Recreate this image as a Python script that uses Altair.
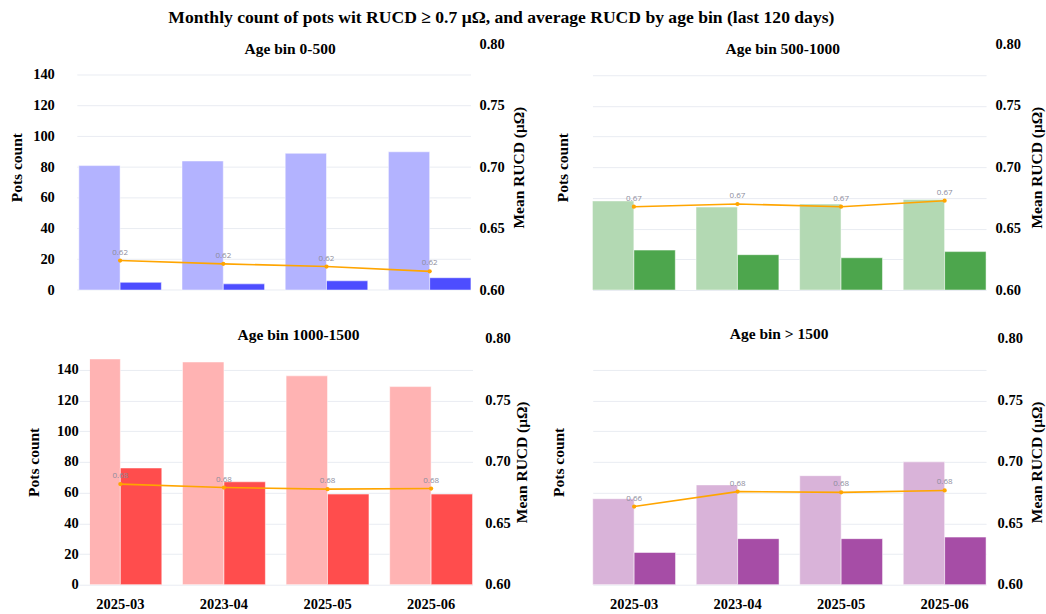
import altair as alt
import pandas as pd

main_title = "Monthly count of pots wit RUCD ≥ 0.7 μΩ, and average RUCD by age bin (last 120 days)"
months = ["2025-03", "2023-04", "2025-05", "2025-06"]
panel_titles = ["Age bin 0-500", "Age bin 500-1000", "Age bin 1000-1500", "Age bin > 1500"]
series = ["All pots", "RUCD ≥ 0.7"]

total_0_500 = [81, 84, 89, 90]
high_0_500 = [5, 4, 6, 8]
mean_0_500 = [0.6240, 0.6213, 0.6191, 0.6152]

total_500_1000 = [58, 54, 56, 59]
high_500_1000 = [26, 23, 21, 25]
mean_500_1000 = [0.6678, 0.6700, 0.6678, 0.6727]

total_1000_1500 = [147, 145, 136, 129]
high_1000_1500 = [76, 67, 59, 59]
mean_1000_1500 = [0.6819, 0.6791, 0.6778, 0.6783]

total_1500 = [56, 65, 71, 80]
high_1500 = [21, 30, 30, 31]
mean_1500 = [0.6636, 0.6758, 0.6752, 0.6767]

count_ticks = [0, 20, 40, 60, 80, 100, 120, 140]
rucd_ticks = [0.60, 0.65, 0.70, 0.75, 0.80]
spacer_text = [" "]

SERIF = "Liberation Serif"
GRID = "#e9ecf2"
H = 246


def text_item(label, x, y, size, align="center", baseline="alphabetic", opacity=1.0):
    return alt.Chart(pd.DataFrame({"t": [label]})).mark_text(
        font=SERIF, fontSize=size, fontWeight="bold", color="black",
        align=align, baseline=baseline, opacity=opacity,
    ).encode(text="t:N", x=alt.value(x), y=alt.value(y))


def spacer(x, y, align, baseline):
    return text_item(spacer_text[0], x, y, 14, align=align, baseline=baseline, opacity=0)


def panel(title, total, high, mean, light, dark, width, xrange, show_x,
          left_labels, left_label_pad, left_extent, left_title_pad,
          right_label_pad, right_title_pad, title_x, title_y, extras,
          grid_x0=None, clip_bars=True):
    bars_df = pd.DataFrame({
        "month": months * 2,
        "series": [series[0]] * len(months) + [series[1]] * len(months),
        "count": total + high,
    })
    line_df = pd.DataFrame({"month": months, "mean": mean})

    xscale = alt.Scale(domain=months, range=xrange, paddingInner=0.2, paddingOuter=0)
    if show_x:
        xaxis = alt.Axis(title=None, labelAngle=0, domain=False, ticks=False, tickSize=0,
                         grid=False, labelPadding=13, labelFont=SERIF, labelFontSize=14.5,
                         labelFontWeight="bold", labelColor="black")
    else:
        xaxis = None
    x = alt.X("month:N", sort=months, scale=xscale, axis=xaxis)

    laxis = alt.Axis(title="Pots count", values=count_ticks, grid=grid_x0 is None,
                     gridColor=GRID, gridWidth=1, domain=False, ticks=False, tickSize=0,
                     labels=left_labels, labelPadding=left_label_pad, labelFont=SERIF,
                     labelFontSize=14.5, labelFontWeight="bold", labelColor="black",
                     titleFont=SERIF, titleFontSize=15.5, titleFontWeight="bold",
                     titleColor="black", titlePadding=left_title_pad,
                     minExtent=left_extent, maxExtent=left_extent)
    raxis = alt.Axis(title="Mean RUCD (μΩ)", orient="right", values=rucd_ticks, format=".2f",
                     grid=False, domain=False, ticks=False, tickSize=0,
                     labelPadding=right_label_pad, labelFont=SERIF, labelFontSize=14.5,
                     labelFontWeight="bold", labelColor="black", titleFont=SERIF,
                     titleFontSize=15.5, titleFontWeight="bold", titleColor="black",
                     titleAngle=270, titleBaseline="top", titlePadding=right_title_pad,
                     minExtent=30, maxExtent=30)
    yl = alt.Y("count:Q", scale=alt.Scale(domain=[0, 160], nice=False), axis=laxis)

    bars = alt.Chart(bars_df).mark_bar(stroke="white", strokeWidth=1, strokeOpacity=0.5,
                                       clip=clip_bars).encode(
        x=x,
        xOffset=alt.XOffset("series:N", sort=series,
                            scale=alt.Scale(domain=series, paddingInner=0, paddingOuter=0)),
        y=yl,
        color=alt.Color("series:N", scale=alt.Scale(domain=series, range=[light, dark]),
                        legend=None),
    )
    if grid_x0 is not None:
        grid = alt.Chart(pd.DataFrame({"count": count_ticks})).mark_rule(
            color=GRID, strokeWidth=1).encode(
            y=yl, x=alt.value(grid_x0), x2=alt.value(width))
        left = alt.layer(grid, bars)
    else:
        left = bars

    yr = alt.Y("mean:Q", scale=alt.Scale(domain=[0.6, 0.8], nice=False), axis=raxis)
    base = alt.Chart(line_df).encode(x=x, y=yr)
    line = base.mark_line(color="#FFA500", strokeWidth=1.6)
    pts = base.mark_point(filled=True, size=18, color="#FFA500", opacity=1)
    txt = base.mark_text(dy=-8, fontSize=8, color="#8c8c9c", font="Open Sans").encode(
        text=alt.Text("mean:Q", format=".2f"))
    layers = [line, pts, txt, text_item(title, title_x, title_y, 15.5)] + extras
    right = alt.layer(*layers)
    return alt.layer(left, right).resolve_scale(y="independent").properties(
        width=width, height=H)


p1 = panel(panel_titles[0], total_0_500, high_0_500, mean_0_500, "#b3b3ff", "#4d4dff",
           381.4, [-11.1, 381.4], False, True, 35.6, 56.6, 8.8, 8, 10.9, 200.4, 9.5,
           [spacer(-86.6, 120, "left", "middle"),
            spacer(200, -14, "center", "top"),
            spacer(200, H + 20, "center", "bottom"),
            spacer(442.4, 120, "right", "middle")],
           grid_x0=-12.6, clip_bars=False)
p2 = panel(panel_titles[1], total_500_1000, high_500_1000, mean_500_1000, "#b3d9b3", "#4da64d",
           405, [10, 404], False, False, 0, 0, 11.5, 8, 12.8, 200.5, 9.5,
           [spacer(-50, 120, "left", "middle"),
            spacer(200, -14, "center", "top"),
            spacer(200, H + 20, "center", "bottom")])
p3 = panel(panel_titles[2], total_1000_1500, high_1000_1500, mean_1000_1500, "#ffb3b3", "#ff4d4d",
           387, [-11, 383], True, True, 11.8, 33, 15.5, 8.3, 8.3, 208.8, 0.9,
           [spacer(-86.6, 120, "left", "middle"),
            spacer(200, -29, "center", "top"),
            spacer(442.4, 120, "right", "middle")])
p4 = panel(panel_titles[3], total_1500, high_1500, mean_1500, "#d9b3d9", "#a64da6",
           407, [10.3, 404], True, False, 0, 0, 15.9, 8, 10.8, 196.8, 0.3,
           [spacer(-50, 120, "left", "middle"),
            spacer(200, -29, "center", "top")])

chart = alt.concat(p1, p2, p3, p4, columns=2, spacing=0).properties(
    padding={"left": 3, "top": 8, "right": 0, "bottom": 0},
    title=alt.TitleParams(main_title, font=SERIF, fontSize=17.6, fontWeight="bold",
                          color="black", anchor="middle", dx=-23, dy=10, offset=0,
                          baseline="alphabetic"),
).resolve_scale(
    color="independent", xOffset="independent"
).configure_view(stroke=None)

chart.save("out.html", embed_options={"renderer": "svg", "actions": False})
